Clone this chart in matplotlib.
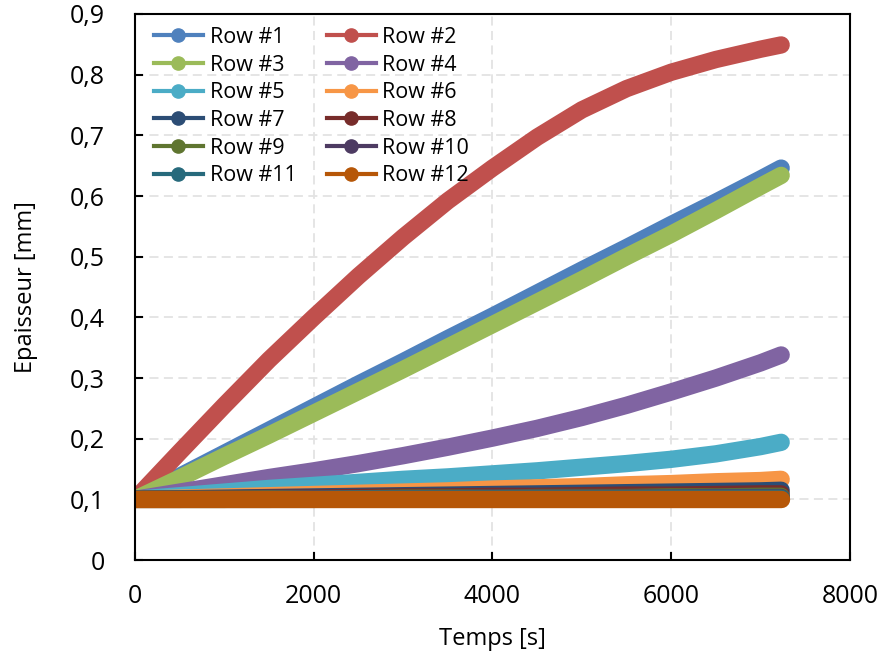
import matplotlib
matplotlib.use("Agg")
import matplotlib.pyplot as plt
from matplotlib.lines import Line2D
from matplotlib.ticker import FuncFormatter, MultipleLocator

plt.rcParams['font.family'] = ['Open Sans', 'DejaVu Sans']

# Temps [s]
temps = [0, 500, 1000, 1500, 2000, 2500, 3000, 3500, 4000,
         4500, 5000, 5500, 6000, 6500, 7000, 7230]

# Epaisseur [mm] for each row
row1 = [0.100, 0.138, 0.176, 0.214, 0.252, 0.290, 0.327, 0.365, 0.402,
        0.440, 0.478, 0.515, 0.553, 0.590, 0.628, 0.646]
row2 = [0.100, 0.178, 0.255, 0.330, 0.400, 0.468, 0.532, 0.592, 0.646,
        0.697, 0.742, 0.777, 0.804, 0.825, 0.842, 0.849]
row3 = [0.100, 0.135, 0.171, 0.206, 0.242, 0.278, 0.314, 0.351, 0.388,
        0.425, 0.462, 0.500, 0.537, 0.576, 0.616, 0.634]
row4 = [0.100, 0.112, 0.124, 0.136, 0.147, 0.159, 0.172, 0.186, 0.201,
        0.217, 0.235, 0.255, 0.277, 0.300, 0.325, 0.338]
row5 = [0.100, 0.106, 0.112, 0.118, 0.123, 0.128, 0.133, 0.137, 0.142,
        0.147, 0.153, 0.159, 0.166, 0.175, 0.187, 0.194]
row6 = [0.100, 0.102, 0.104, 0.106, 0.108, 0.110, 0.112, 0.114, 0.117,
        0.119, 0.121, 0.124, 0.126, 0.129, 0.131, 0.133]
row7 = [0.100, 0.101, 0.102, 0.103, 0.104, 0.105, 0.106, 0.107, 0.108,
        0.109, 0.110, 0.111, 0.112, 0.113, 0.114, 0.115]
row8 = [0.100, 0.100, 0.101, 0.102, 0.102, 0.103, 0.104, 0.104, 0.105,
        0.105, 0.106, 0.107, 0.107, 0.108, 0.109, 0.109]
row9 = [0.100, 0.100, 0.100, 0.101, 0.101, 0.101, 0.102, 0.102, 0.102,
        0.103, 0.103, 0.103, 0.104, 0.104, 0.105, 0.105]
row10 = [0.100, 0.100, 0.100, 0.100, 0.101, 0.101, 0.101, 0.101, 0.102,
         0.102, 0.102, 0.102, 0.102, 0.103, 0.103, 0.103]
row11 = [0.100, 0.100, 0.100, 0.100, 0.100, 0.101, 0.101, 0.101, 0.101,
         0.101, 0.101, 0.101, 0.102, 0.102, 0.102, 0.102]
row12 = [0.100, 0.100, 0.100, 0.100, 0.100, 0.100, 0.100, 0.100, 0.100,
         0.100, 0.100, 0.100, 0.100, 0.100, 0.100, 0.100]

rows = [row1, row2, row3, row4, row5, row6, row7, row8, row9, row10, row11, row12]
labels = [f"Row #{i}" for i in range(1, 13)]
colors = ['#4F81BD', '#C0504D', '#9BBB59', '#8064A2', '#4BACC6', '#F79646',
          '#2C4D75', '#772C2A', '#5F7530', '#4D3B62', '#276A7C', '#B65708']

fig = plt.figure(figsize=(8.83, 6.57), dpi=100)
ax = fig.add_axes([0.1529, 0.1476, 0.8097, 0.8311])

# thick round-capped line, mimics the dense Excel markers
for vals, col in zip(rows, colors):
    ax.plot(temps, vals, color=col, lw=12.5, solid_capstyle='round',
            solid_joinstyle='round')

ax.set_xlim(0, 8000)
ax.set_ylim(0, 0.9)
ax.xaxis.set_major_locator(MultipleLocator(2000))
ax.yaxis.set_major_locator(MultipleLocator(0.1))


def comma(v, pos):
    if abs(v) < 1e-9:
        return "0"
    if abs(v - round(v)) < 1e-9:
        return f"{int(round(v))}"
    return f"{v:.1f}".replace('.', ',')


ax.xaxis.set_major_formatter(FuncFormatter(comma))
ax.yaxis.set_major_formatter(FuncFormatter(comma))

ax.grid(True, color='#E3E3E3', lw=1.3, ls=(0, (5, 3)))
ax.set_axisbelow(True)
for s in ax.spines.values():
    s.set_linewidth(1.5)
    s.set_color('black')
ax.tick_params(direction='in', length=6, width=1.5, labelsize=18,
               top=False, right=False)
ax.tick_params(axis='y', pad=21.5)
ax.tick_params(axis='x', pad=17)

ax.set_xlabel("Temps [s]", fontsize=17)
ax.set_ylabel("Epaisseur [mm]", fontsize=17)
ax.xaxis.set_label_coords(0.5, -0.122)
ax.yaxis.set_label_coords(-0.135, 0.5)

# legend filled row by row (Excel style)
order = [0, 2, 4, 6, 8, 10, 1, 3, 5, 7, 9, 11]
handles = [Line2D([], [], color=colors[i], lw=3, marker='o', ms=9.5) for i in order]
ax.legend(handles, [labels[i] for i in order], ncol=2, frameon=False,
          loc='upper left', bbox_to_anchor=(0.008, 1.0), fontsize=15.5,
          handlelength=2.3, handletextpad=0.3, columnspacing=1.4,
          labelspacing=0.31, borderaxespad=0.2)

fig.savefig("out.png", dpi=100)
